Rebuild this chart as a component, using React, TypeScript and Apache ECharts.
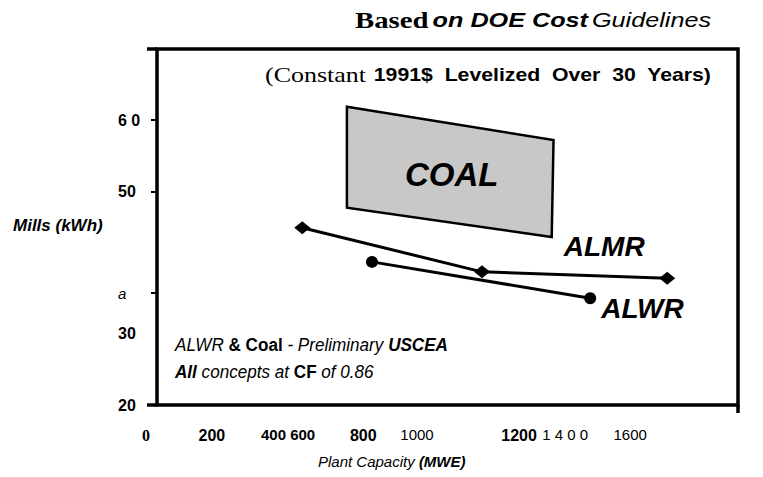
import React, { useEffect, useRef } from "react";
import * as echarts from "echarts";

// ---- data ----
const almrX = [400, 895, 1405];
const almrY = [44.9, 38.7, 37.8];
const alwrX = [592, 1193];
const alwrY = [40.1, 35.0];
const coalX = [523, 1092, 1087, 523];
const coalY = [61.9, 57.2, 43.6, 47.7];

const xTickLabels = ["0", "200", "400 600", "800", "1000", "1200", "1 4 0 0", "1600"];
const xTickPos = [0, 151, 361, 568, 716, 997, 1124, 1303];
const xTickStyle = ["z", "b", "c", "b", "n", "b", "n", "n"];

const yTickLabels = ["20", "30", "a", "50", "6 0"];
const yTickPos = [20, 30, 35.7, 50, 60];
const yTickStyle = ["b", "b", "i", "b", "b"];
const yTickMarks = [35.7, 50, 60];

const SANS = "'Liberation Sans', Arial, sans-serif";
const SERIF = "'Liberation Serif', 'Times New Roman', serif";

export default function App() {
  const ref = useRef<HTMLDivElement>(null);
  useEffect(() => {
    if (!ref.current) return;
    const chart = echarts.init(ref.current, null, { renderer: "svg" });
    const option: any = {
      animation: false,
      backgroundColor: "#ffffff",
      grid: { left: 157, right: 25, top: 49, bottom: 72, show: false },
      xAxis: {
        type: "value",
        min: 0,
        max: 1600,
        splitLine: { show: false },
        axisLine: { show: false },
        axisTick: { show: false },
        axisLabel: {
          show: true,
          customValues: xTickPos,
          margin: 22,
          formatter: (v: number) => {
            const i = xTickPos.findIndex((p) => Math.abs(p - v) < 0.5);
            if (i < 0) return "";
            return `{${xTickStyle[i]}|${xTickLabels[i]}}`;
          },
          rich: {
            z: { fontFamily: SERIF, fontWeight: "bold", fontSize: 16, color: "#000", padding: [0, 22, 0, 0] },
            b: { fontFamily: SANS, fontWeight: "bold", fontSize: 16, color: "#000" },
            c: { fontFamily: SANS, fontWeight: "bold", fontSize: 15, color: "#000" },
            n: { fontFamily: SANS, fontWeight: "normal", fontSize: 15, color: "#000" },
          },
        },
      },
      yAxis: {
        type: "value",
        min: 20,
        max: 70,
        splitLine: { show: false },
        axisLine: { show: false },
        axisTick: { show: true, customValues: yTickMarks, length: 6, lineStyle: { color: "#000", width: 2 } },
        axisLabel: {
          show: true,
          customValues: yTickPos,
          align: "left",
          margin: 39,
          formatter: (v: number) => {
            const i = yTickPos.findIndex((p) => Math.abs(p - v) < 0.05);
            if (i < 0) return "";
            return `{${yTickStyle[i]}|${yTickLabels[i]}}`;
          },
          rich: {
            b: { fontFamily: SANS, fontWeight: "bold", fontSize: 16, color: "#000" },
            i: { fontFamily: SANS, fontStyle: "italic", fontSize: 15, color: "#000" },
          },
        },
      },
      graphic: [
        {
          type: "text",
          x: 355,
          y: 20,
          scaleX: 1.2,
          style: {
            text: "{a|Based} {b|on DOE Cost} {c|Guidelines}",
            verticalAlign: "middle",
            rich: {
              a: { fontFamily: SERIF, fontWeight: "bold", fontSize: 24, fill: "#000" },
              b: { fontFamily: SANS, fontWeight: "bold", fontStyle: "italic", fontSize: 21, fill: "#000" },
              c: { fontFamily: SANS, fontStyle: "italic", fontSize: 21, fill: "#000" },
            },
          },
        },
        {
          type: "text",
          x: 265,
          y: 75,
          scaleX: 1.18,
          style: {
            text: "{a|(Constant}  {b|1991$  Levelized  Over  30  Years)}",
            verticalAlign: "middle",
            rich: {
              a: { fontFamily: SERIF, fontSize: 22, fill: "#000" },
              b: { fontFamily: SANS, fontWeight: "bold", fontSize: 18, fill: "#000" },
            },
          },
        },
        {
          type: "text",
          x: 13,
          y: 225,
          style: {
            text: "Mills (kWh)",
            verticalAlign: "middle",
            fontFamily: SANS,
            fontWeight: "bold",
            fontStyle: "italic",
            fontSize: 17,
            fill: "#000",
          },
        },
        {
          type: "text",
          x: 318,
          y: 454,
          style: {
            text: "{a|Plant Capacity }{b|(MWE)}",
            rich: {
              a: { fontFamily: SANS, fontStyle: "italic", fontSize: 15, fill: "#000" },
              b: { fontFamily: SANS, fontStyle: "italic", fontWeight: "bold", fontSize: 15, fill: "#000" },
            },
          },
        },
        {
          type: "text",
          x: 175,
          y: 331,
          scaleX: 0.9,
          style: {
            text: "{a|ALWR }{b|& Coal}{a| - Preliminary }{c|USCEA}\n{c|All}{a| concepts at }{b|CF}{a| of 0.86}",
            rich: {
              a: { fontFamily: SANS, fontStyle: "italic", fontSize: 19, fill: "#000", lineHeight: 27 },
              b: { fontFamily: SANS, fontWeight: "bold", fontSize: 19, fill: "#000", lineHeight: 27 },
              c: { fontFamily: SANS, fontWeight: "bold", fontStyle: "italic", fontSize: 19, fill: "#000", lineHeight: 27 },
            },
          },
        },
      ],
      series: [
        {
          type: "custom",
          name: "frame",
          silent: true,
          encode: { x: 0, y: 1 },
          data: [[0, 20]],
          renderItem: (params: any) => {
            const c = params.coordSys;
            const st = { stroke: "#000", lineWidth: 3.5, fill: null };
            return {
              type: "group",
              children: [
                { type: "rect", shape: { x: c.x, y: c.y, width: c.width, height: c.height }, style: { ...st } },
                { type: "line", shape: { x1: c.x - 10, y1: c.y, x2: c.x, y2: c.y }, style: { ...st } },
                { type: "line", shape: { x1: c.x - 10, y1: c.y + c.height, x2: c.x, y2: c.y + c.height }, style: { ...st } },
                {
                  type: "line",
                  shape: { x1: c.x + c.width, y1: c.y + c.height, x2: c.x + c.width, y2: c.y + c.height + 8 },
                  style: { ...st },
                },
              ],
            };
          },
          z: 5,
        },
        {
          type: "custom",
          name: "COAL",
          encode: { x: 0, y: 1 },
          data: coalX.map((x, i) => [x, coalY[i]]),
          renderItem: (params: any, api: any) => {
            if (params.dataIndex !== 0) return null;
            const pts = coalX.map((x, i) => api.coord([x, coalY[i]]));
            const cx = pts.reduce((s: number, p: number[]) => s + p[0], 0) / pts.length;
            const cy = pts.reduce((s: number, p: number[]) => s + p[1], 0) / pts.length;
            return {
              type: "group",
              children: [
                {
                  type: "polygon",
                  shape: { points: pts },
                  style: { fill: "#c8c8c8", stroke: "#000", lineWidth: 2.5 },
                },
                {
                  type: "text",
                  x: cx + 2,
                  y: cy + 2,
                  style: {
                    text: "COAL",
                    fontFamily: SANS,
                    fontWeight: "bold",
                    fontStyle: "italic",
                    fontSize: 33,
                    fill: "#000",
                    align: "center",
                    verticalAlign: "middle",
                  },
                },
              ],
            };
          },
          z: 1,
        },
        {
          type: "line",
          name: "ALMR",
          data: almrX.map((x, i) =>
            i === almrX.length - 1
              ? {
                  value: [x, almrY[i]],
                  label: {
                    show: true,
                    formatter: "ALMR",
                    position: "top",
                    offset: [-63, -6],
                    fontFamily: SANS,
                    fontWeight: "bold",
                    fontStyle: "italic",
                    fontSize: 28,
                    color: "#000",
                  },
                }
              : [x, almrY[i]]
          ),
          symbol: "diamond",
          symbolSize: [16, 13],
          showAllSymbol: true,
          itemStyle: { color: "#000" },
          lineStyle: { color: "#000", width: 3 },
          z: 3,
        },
        {
          type: "line",
          name: "ALWR",
          data: alwrX.map((x, i) =>
            i === alwrX.length - 1
              ? {
                  value: [x, alwrY[i]],
                  label: {
                    show: true,
                    formatter: "ALWR",
                    position: "right",
                    offset: [0, 10],
                    fontFamily: SANS,
                    fontWeight: "bold",
                    fontStyle: "italic",
                    fontSize: 28,
                    color: "#000",
                  },
                }
              : [x, alwrY[i]]
          ),
          symbol: "circle",
          symbolSize: 12,
          showAllSymbol: true,
          itemStyle: { color: "#000" },
          lineStyle: { color: "#000", width: 3 },
          z: 3,
        },
      ],
    };
    chart.setOption(option);
    return () => chart.dispose();
  }, []);
  return (
    <div
      ref={ref}
      style={{ position: "fixed", left: 0, top: 0, width: 763, height: 477 }}
    />
  );
}
